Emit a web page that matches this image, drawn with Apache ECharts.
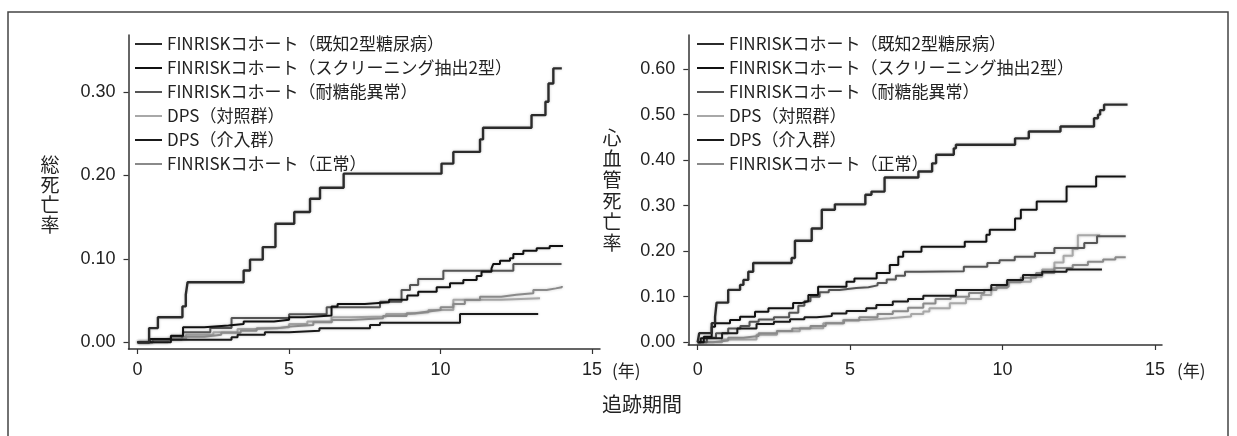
<!DOCTYPE html>
<html><head><meta charset="utf-8">
<script src="https://cdn.jsdelivr.net/npm/echarts@6/dist/echarts.min.js"></script>
<style>html,body{margin:0;padding:0;background:#fff}#c{width:1237px;height:436px}</style>
</head><body><div id="c"></div>
<script>
// legend names (legend order)
const seriesNames = [
  'FINRISKコホート（既知2型糖尿病）',
  'FINRISKコホート（スクリーニング抽出2型）',
  'FINRISKコホート（耐糖能異常）',
  'DPS（対照群）',
  'DPS（介入群）',
  'FINRISKコホート（正常）'
];
const seriesColors = ['#2b2b2b', '#111111', '#555555', '#a8a8a8', '#1a1a1a', '#8a8a8a'];

const xTicks = [0, 5, 10, 15];
const yTicksLeft = [0, 0.1, 0.2, 0.3];
const yTicksRight = [0, 0.1, 0.2, 0.3, 0.4, 0.5, 0.6];

// ---- Left panel: total mortality (years, cumulative rate)
const L_known_t = [0, 0.38, 0.67, 1.48, 1.59, 1.65, 3.5, 3.71, 4.13, 4.55, 5.17, 5.69, 6.02, 6.8, 10.03, 10.42, 11.3, 11.4, 13.0, 13.46, 13.56, 13.72, 14.0];
const L_known_v = [0, 0.017, 0.030, 0.043, 0.057, 0.072, 0.086, 0.099, 0.114, 0.142, 0.156, 0.172, 0.185, 0.202, 0.214, 0.228, 0.243, 0.257, 0.272, 0.288, 0.31, 0.328, 0.328];

const L_screen_t = [0, 0.4, 1.1, 1.5, 2.2, 3.0, 3.5, 4.5, 5.0, 5.5, 6.4, 6.6, 7.5, 8.3, 8.9, 9.26, 9.87, 10.31, 10.75, 11.19, 11.35, 11.68, 11.74, 11.96, 12.29, 12.4, 12.73, 13.17, 13.6, 14.04];
const L_screen_v = [0, 0.004, 0.008, 0.018, 0.02, 0.022, 0.025, 0.027, 0.030, 0.032, 0.043, 0.046, 0.048, 0.051, 0.056, 0.0606, 0.0658, 0.0707, 0.0746, 0.0794, 0.0846, 0.0886, 0.0938, 0.0978, 0.1006, 0.1057, 0.1097, 0.1126, 0.1153, 0.1153];

const L_igt_t = [0, 0.5, 1.1, 1.5, 2.4, 3.1, 5.0, 6.24, 8.0, 8.71, 8.99, 9.26, 10.09, 12.4, 13.99];
const L_igt_v = [0, 0.003, 0.007, 0.012, 0.017, 0.029, 0.0335, 0.042, 0.0487, 0.0626, 0.0686, 0.0758, 0.0858, 0.0938, 0.0938];

const L_normal_t = [0, 0.5, 1.46, 2.2, 2.76, 3.4, 3.93, 4.6, 5.04, 5.8, 6.41, 7.0, 8.1, 8.88, 9.15, 9.54, 10.0, 10.42, 10.8, 11.3, 12.0, 12.5, 13.06, 13.5, 13.8, 14.0];
const L_normal_v = [0, 0.003, 0.0067, 0.009, 0.0115, 0.014, 0.0167, 0.019, 0.0207, 0.024, 0.0267, 0.0287, 0.0315, 0.0347, 0.0367, 0.0387, 0.042, 0.046, 0.0507, 0.0547, 0.057, 0.0587, 0.0626, 0.0646, 0.066, 0.0674];

const L_dpsC_t = [0, 1.0, 1.6, 2.5, 3.3, 4.0, 5.0, 5.6, 6.4, 7.0, 8.2, 9.0, 9.6, 10.42, 12.0, 13.28];
const L_dpsC_v = [0, 0.004, 0.009, 0.012, 0.016, 0.018, 0.022, 0.025, 0.030, 0.031, 0.034, 0.036, 0.0387, 0.051, 0.0527, 0.0527];

const L_dpsI_t = [0, 1.1, 3.1, 3.3, 4.2, 5.0, 6.0, 7.67, 8.0, 10.64, 13.22];
const L_dpsI_v = [0, 0.003, 0.006, 0.009, 0.012, 0.014, 0.0167, 0.0207, 0.0235, 0.034, 0.034];

// ---- Right panel: cardiovascular mortality
const R_known_t = [0, 0.05, 0.46, 0.57, 0.62, 1.0, 1.39, 1.5, 1.66, 1.82, 3.08, 3.19, 3.74, 4.07, 4.5, 5.5, 5.7, 6.13, 7.24, 7.69, 7.82, 8.4, 8.47, 10.41, 10.86, 11.9, 13.0, 13.13, 13.2, 13.33, 14.1];
const R_known_v = [0, 0.02, 0.042, 0.056, 0.087, 0.115, 0.126, 0.137, 0.155, 0.174, 0.185, 0.223, 0.25, 0.291, 0.303, 0.324, 0.331, 0.362, 0.375, 0.393, 0.412, 0.426, 0.434, 0.448, 0.463, 0.474, 0.492, 0.5, 0.51, 0.522, 0.522];

const R_screen_t = [0, 0.2, 0.46, 0.57, 1.06, 1.39, 1.88, 2.32, 3.13, 3.4, 3.63, 3.95, 4.88, 5.14, 5.87, 6.3, 6.58, 6.74, 7.34, 8.76, 9.47, 9.58, 10.41, 10.6, 11.12, 12.1, 13.07, 14.04];
const R_screen_v = [0, 0.012, 0.034, 0.042, 0.049, 0.056, 0.067, 0.075, 0.086, 0.09, 0.104, 0.122, 0.133, 0.14, 0.152, 0.17, 0.188, 0.199, 0.21, 0.221, 0.236, 0.247, 0.272, 0.291, 0.309, 0.342, 0.364, 0.364];

const R_igt_t = [0, 0.3, 0.6, 1.0, 1.4, 1.7, 2.0, 2.5, 3.0, 3.3, 3.5, 3.7, 4.0, 4.3, 4.65, 5.2, 5.6, 5.9, 6.2, 6.5, 6.8, 7.3, 8.73, 9.5, 9.9, 10.4, 11.06, 11.7, 12.68, 13.1, 14.04];
const R_igt_v = [0, 0.01, 0.02, 0.03, 0.036, 0.045, 0.05, 0.055, 0.065, 0.08, 0.09, 0.1, 0.11, 0.115, 0.119, 0.121, 0.125, 0.13, 0.138, 0.146, 0.155, 0.156, 0.166, 0.174, 0.18, 0.188, 0.196, 0.207, 0.218, 0.233, 0.233];

const R_dpsC_t = [0, 0.8, 1.93, 2.6, 3.35, 4.12, 4.77, 5.5, 6.3, 7.0, 7.4, 7.6, 8.27, 8.8, 9.3, 9.63, 10.15, 10.93, 11.3, 11.7, 12.0, 12.3, 12.47, 13.2];
const R_dpsC_v = [0, 0.006, 0.0163, 0.024, 0.031, 0.042, 0.049, 0.053, 0.0567, 0.062, 0.0677, 0.075, 0.0857, 0.095, 0.104, 0.119, 0.133, 0.144, 0.16, 0.175, 0.19, 0.205, 0.235, 0.235];

const R_dpsI_t = [0, 0.1, 0.8, 1.3, 1.93, 2.5, 3.03, 3.5, 3.9, 4.4, 4.88, 5.53, 5.86, 6.4, 6.9, 7.4, 8.47, 9.63, 10.15, 10.67, 11.3, 12.1, 13.26];
const R_dpsI_v = [0, 0.009, 0.02, 0.03, 0.0402, 0.045, 0.0505, 0.055, 0.0578, 0.063, 0.0688, 0.0747, 0.082, 0.0894, 0.095, 0.102, 0.115, 0.126, 0.137, 0.148, 0.155, 0.16, 0.16];

const R_normal_t = [0, 0.5, 1.0, 1.5, 2.0, 2.6, 3.1, 3.7, 4.2, 4.8, 5.3, 5.9, 6.4, 6.9, 7.4, 7.8, 8.3, 8.9, 9.4, 9.8, 10.2, 10.6, 11.1, 11.7, 12.3, 12.8, 13.3, 13.7, 14.04];
const R_normal_v = [0, 0.004, 0.01, 0.014, 0.02, 0.025, 0.03, 0.036, 0.042, 0.048, 0.055, 0.062, 0.068, 0.076, 0.085, 0.095, 0.1, 0.108, 0.115, 0.122, 0.132, 0.142, 0.152, 0.163, 0.17, 0.177, 0.182, 0.187, 0.187];

function pairs(t, v) { return t.map(function (x, i) { return [x, v[i]]; }); }

const leftData = [
  [L_known_t, L_known_v], [L_screen_t, L_screen_v], [L_igt_t, L_igt_v],
  [L_dpsC_t, L_dpsC_v], [L_dpsI_t, L_dpsI_v], [L_normal_t, L_normal_v]
];
const rightData = [
  [R_known_t, R_known_v], [R_screen_t, R_screen_v], [R_igt_t, R_igt_v],
  [R_dpsC_t, R_dpsC_v], [R_dpsI_t, R_dpsI_v], [R_normal_t, R_normal_v]
];
const drawOrder = [3, 5, 2, 4, 1, 0];
const widths = [2.4, 2.0, 2.0, 2.0, 2.0, 2.0];

const seriesList = [];
[leftData, rightData].forEach(function (panel, gi) {
  drawOrder.forEach(function (k) {
    seriesList.push({
      name: seriesNames[k], type: 'line', step: 'end', symbol: 'none',
      xAxisIndex: gi, yAxisIndex: gi,
      lineStyle: { color: seriesColors[k], width: widths[k], shadowColor: 'rgba(0,0,0,0.22)', shadowBlur: 3 },
      itemStyle: { color: seriesColors[k] },
      data: pairs(panel[k][0], panel[k][1])
    });
  });
});

const tickFont = { fontSize: 18, color: '#222', fontFamily: 'Liberation Sans, Arial, sans-serif' };
function makeX(gi, min, max, margin) {
  return {
    gridIndex: gi, type: 'value', min: min, max: max,
    axisLine: { show: true, onZero: false, lineStyle: { color: '#333', width: 1.5 } },
    axisTick: { show: true, length: 5, customValues: xTicks, lineStyle: { color: '#333', width: 1.2 } },
    axisLabel: Object.assign({ customValues: xTicks, margin: margin }, tickFont),
    splitLine: { show: false }
  };
}
function makeY(gi, min, max, ticks) {
  return {
    gridIndex: gi, type: 'value', min: min, max: max,
    axisLine: { show: true, onZero: false, lineStyle: { color: '#333', width: 1.5 } },
    axisTick: { show: true, length: 5, customValues: ticks, lineStyle: { color: '#333', width: 1.2 } },
    axisLabel: Object.assign({ customValues: ticks, margin: 13, formatter: function (v) { return v.toFixed(2); } }, tickFont),
    splitLine: { show: false }
  };
}
function makeLegend(left) {
  return {
    left: left, top: 35, padding: 0, orient: 'vertical', itemWidth: 27, itemHeight: 14, itemGap: 6,
    data: seriesNames.map(function (n) { return { name: n, icon: 'path://M0,6 L27,6 L27,8 L0,8 Z' }; }),
    selectedMode: false,
    textStyle: { fontSize: 17, lineHeight: 18, color: '#222', fontFamily: '"Noto Sans CJK JP", sans-serif' }
  };
}

const chart = echarts.init(document.getElementById('c'));
chart.setOption({
  animation: false,
  backgroundColor: '#ffffff',
  grid: [
    { left: 128.5, top: 35, width: 471.5, height: 314 },
    { left: 688.3, top: 35, width: 473.7, height: 310 }
  ],
  xAxis: [makeX(0, -0.3, 15.26, 12), makeX(1, -0.308, 15.23, 16)],
  yAxis: [makeY(0, -0.008, 0.368, yTicksLeft), makeY(1, -0.006, 0.675, yTicksRight)],
  legend: [makeLegend(135), makeLegend(697)],
  series: seriesList,
  graphic: [
    { type: 'rect', shape: { x: 8, y: 12, width: 1220, height: 440 }, style: { fill: 'none', stroke: '#444', lineWidth: 1.5 }, silent: true },
    { type: 'text', x: 50, y: 195, style: { text: '総\n死\n亡\n率', font: '19px "Noto Sans CJK JP"', lineHeight: 20, fill: '#222', align: 'center', verticalAlign: 'middle' } },
    { type: 'text', x: 612, y: 190, style: { text: '心\n血\n管\n死\n亡\n率', font: '19px "Noto Sans CJK JP"', lineHeight: 21, fill: '#222', align: 'center', verticalAlign: 'middle' } },
    { type: 'text', x: 642, y: 404, style: { text: '追跡期間', font: '20px "Noto Sans CJK JP"', fill: '#222', align: 'center', verticalAlign: 'middle' } },
    { type: 'text', x: 612, y: 371, style: { text: '(年)', font: '17px "Noto Sans CJK JP"', fill: '#222', align: 'left', verticalAlign: 'middle' } },
    { type: 'text', x: 1177, y: 371, style: { text: '(年)', font: '17px "Noto Sans CJK JP"', fill: '#222', align: 'left', verticalAlign: 'middle' } }
  ]
});
</script></body></html>
